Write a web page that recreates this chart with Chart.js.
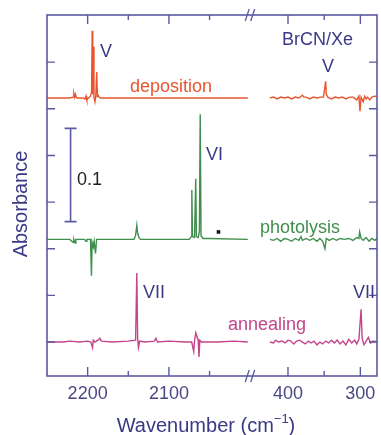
<!DOCTYPE html>
<html>
<head>
<meta charset="utf-8">
<script src="https://cdn.jsdelivr.net/npm/chart.js@4"></script>
<style>
  body { margin: 0; background: #fff; }
  canvas { display: block; }
</style>
</head>
<body>
<canvas id="myChart" width="381" height="435"></canvas>
<script>
// ========== data (wavenumber in cm-1, absorbance relative to each trace baseline)

const depositionLeft = [
	[2250, 0], [2222, 0], [2218, 0.001], [2217, 0.005], [2216, 0.001], [2215, 0.004], [2214, 0.001], [2213, 0],
	[2206, 0], [2203, -0.001], [2202, 0.002], [2201, -0.002], [2199, 0], [2196.5, 0.002], [2195.2, 0.006],
	[2194.4, 0.072], [2193.7, 0.004], [2193, 0.055], [2192.2, 0.001], [2191, -0.004], [2190, 0.002],
	[2188.8, 0.028], [2188, 0.002], [2187, 0.003], [2186, 0.001], [2184, 0], [2150, 0], [2100, 0], [2050, 0], [2003, 0]
]
const depositionRight = [
	[425, 0], [420, 0.001], [415, -0.001], [410, 0.001], [405, 0], [400, 0.001], [395, -0.001], [390, 0.001],
	[385, 0], [380, 0.003], [378, 0.001], [375, 0.001], [370, -0.001], [365, 0.001], [360, 0], [355, 0.001],
	[351, 0.001], [349, 0.012], [348, 0.018], [347, 0.004], [345, 0.001], [340, -0.001], [335, 0.001], [330, 0],
	[325, 0.001], [320, -0.001], [315, 0.001], [310, 0.001], [305, -0.002], [302, 0.002], [300.5, -0.014],
	[299, 0.001], [296, -0.004], [294, 0.002], [292, -0.001], [290, 0.001], [287, -0.002], [284, 0.001], [280, 0.002], [277, 0.002]
]
const photolysisLeft = [
	[2250, 0], [2222, 0], [2218, -0.003], [2217, 0], [2215.5, -0.004], [2214.5, 0], [2204, 0], [2202, -0.002],
	[2201, 0], [2196.5, 0], [2195.3, -0.039], [2194.5, -0.003], [2193, -0.008], [2192, -0.002], [2190.3, -0.015],
	[2189, 0], [2187, 0], [2143, 0], [2141, 0.004], [2139.5, 0.015], [2138.5, 0.007], [2137, 0.002], [2135, 0],
	[2075, 0], [2072.5, 0.003], [2071.8, 0.053], [2071, 0.003], [2068.5, 0.002], [2067, 0.065], [2066.2, 0.003],
	[2064, 0.002], [2062.5, 0.008], [2061.5, 0.134], [2060.5, 0.004], [2058, 0.001], [2050, 0.001], [2003, 0]
]
const photolysisRight = [
	[425, 0], [420, -0.001], [415, 0.001], [410, -0.002], [405, 0.001], [400, 0], [395, -0.002], [390, 0.001],
	[385, -0.001], [382, 0.003], [380, -0.001], [375, 0.001], [370, -0.001], [365, 0.001], [360, -0.002],
	[356, 0.001], [352, -0.002], [349, -0.010], [347, 0.001], [343, -0.001], [338, 0.001], [333, -0.001],
	[328, 0.001], [322, 0], [316, 0.001], [310, -0.001], [305, 0.002], [302, 0.001], [301, 0.008], [299, 0.001],
	[296, -0.001], [292, 0.002], [288, -0.002], [284, 0.001], [280, -0.001], [277, 0.001]
]
const annealingLeft = [
	[2250, 0], [2230, 0], [2222, 0.001], [2210, 0], [2200, 0.001], [2196, 0], [2194, -0.006], [2193, 0.002],
	[2191, 0], [2187, 0.002], [2185, 0.004], [2183, 0.001], [2170, 0], [2150, 0.001], [2141, 0.002],
	[2139.5, 0.074], [2138.5, 0.004], [2137.5, -0.006], [2136, 0.001], [2130, 0], [2118, 0.001], [2116, 0.004],
	[2114, 0], [2100, 0.001], [2080, 0], [2072, 0], [2069.5, -0.010], [2068.5, 0.001], [2067, 0.010],
	[2064, 0.002], [2063, -0.016], [2062, 0.002], [2060, 0], [2040, 0], [2020, 0.001], [2003, 0]
]
const annealingRight = [
	[425, 0], [420, -0.001], [417, 0.002], [413, 0], [408, 0.001], [404, -0.001], [400, 0.002], [396, 0.001],
	[392, -0.002], [388, 0.001], [384, 0.002], [380, 0], [376, -0.002], [372, 0.001], [368, -0.001], [364, 0.001],
	[360, -0.003], [356, 0], [352, -0.002], [348, 0.001], [344, -0.001], [340, 0.002], [336, -0.001], [332, 0.002],
	[328, -0.002], [324, 0.001], [320, -0.003], [316, 0.003], [312, -0.001], [308, 0.002], [305, -0.002],
	[302, 0.003], [299, 0.035], [297.5, 0.004], [295, -0.003], [292, 0.001], [289, 0.005], [286, -0.001],
	[283, 0.001], [280, 0.001], [277, 0]
]

// trace offsets on the absorbance axis
const offsets = { deposition: 0.2615, photolysis: 0.110, annealing: 0 }

// black square marker near the photolysis trace
const markerPoint = [[2039, 0.118]]

// scale bar (0.1 absorbance)
const scaleBarWn = 2221
const scaleBarRange = [0.129, 0.229]

// ticks
const leftMajorTicks = [2200, 2100]
const leftMinorTicks = [2150, 2050]
const rightMajorTicks = [400, 300]
const rightMinorTicks = [350]
const yTicks = [0, 0.05, 0.10, 0.15, 0.20, 0.25, 0.30]
const breakWn = 2000


// ========== colours / fonts
const RED = '#e8552f'
const GREEN = '#3f8e4c'
const MAGENTA = '#c4458b'
const NAVY = '#3b3886'
const AXIS = '#5b59a1'
const FONT = '"Liberation Sans", Arial, sans-serif'


function toPoints(arr, offset){
	return arr.map(p => ({ x: p[0], y: p[1] + offset }))
}

function trace(arr, offset, color, axis){
	return {
		data: toPoints(arr, offset),
		xAxisID: axis,
		borderColor: color,
		borderWidth: 1.4,
		pointRadius: 0,
		tension: 0,
		fill: false
	}
}


// ========== decorations: frame, ticks, break marks, texts
const decor = {
	id: 'decor',
	afterDatasetsDraw(chart){
		const ctx = chart.ctx
		const a = chart.chartArea
		const x1 = chart.scales.x1, x2 = chart.scales.x2, y = chart.scales.y
		ctx.save()

		// frame
		ctx.strokeStyle = AXIS
		ctx.lineWidth = 1.6
		ctx.strokeRect(a.left, a.top, a.right - a.left, a.bottom - a.top)

		// x ticks (bottom and top, inward)
		ctx.lineWidth = 1.4
		function xTick(px, len){
			ctx.beginPath()
			ctx.moveTo(px, a.bottom); ctx.lineTo(px, a.bottom - len)
			ctx.moveTo(px, a.top); ctx.lineTo(px, a.top + len)
			ctx.stroke()
		}
		leftMajorTicks.forEach(v => xTick(x1.getPixelForValue(v), 9))
		leftMinorTicks.forEach(v => xTick(x1.getPixelForValue(v), 5))
		rightMajorTicks.forEach(v => xTick(x2.getPixelForValue(v), 9))
		rightMinorTicks.forEach(v => xTick(x2.getPixelForValue(v), 5))

		// y ticks (both sides, inward)
		yTicks.forEach(v => {
			const py = y.getPixelForValue(v)
			ctx.beginPath()
			ctx.moveTo(a.left, py); ctx.lineTo(a.left + 8, py)
			ctx.moveTo(a.right, py); ctx.lineTo(a.right - 8, py)
			ctx.stroke()
		})

		// break marks
		const bx = x1.getPixelForValue(breakWn)
		ctx.lineWidth = 1.3
		;[a.top, a.bottom].forEach(py => {
			ctx.beginPath()
			ctx.moveTo(bx - 5, py + 6); ctx.lineTo(bx - 1, py - 6)
			ctx.moveTo(bx + 0.5, py + 6); ctx.lineTo(bx + 4.5, py - 6)
			ctx.stroke()
		})

		// scale bar
		const sx = x1.getPixelForValue(scaleBarWn)
		const sy0 = y.getPixelForValue(scaleBarRange[0])
		const sy1 = y.getPixelForValue(scaleBarRange[1])
		ctx.lineWidth = 1.6
		ctx.beginPath()
		ctx.moveTo(sx, sy0); ctx.lineTo(sx, sy1)
		ctx.moveTo(sx - 6, sy0); ctx.lineTo(sx + 6, sy0)
		ctx.moveTo(sx - 6, sy1); ctx.lineTo(sx + 6, sy1)
		ctx.stroke()

		// tick labels
		ctx.fillStyle = '#4a4783'
		ctx.font = '18px ' + FONT
		ctx.textAlign = 'center'
		ctx.textBaseline = 'alphabetic'
		leftMajorTicks.forEach(v => ctx.fillText(String(v), x1.getPixelForValue(v), 399))
		rightMajorTicks.forEach(v => ctx.fillText(String(v), x2.getPixelForValue(v), 399))

		// axis titles
		ctx.fillStyle = NAVY
		ctx.font = '20px ' + FONT
		ctx.textAlign = 'left'
		const t1 = 'Wavenumber (cm'
		const w1 = ctx.measureText(t1).width
		ctx.font = '13px ' + FONT
		const w2 = ctx.measureText('\u22121').width
		ctx.font = '20px ' + FONT
		const w3 = ctx.measureText(')').width
		const tx = 206 - (w1 + w2 + w3) / 2
		ctx.fillText(t1, tx, 432)
		ctx.font = '13px ' + FONT
		ctx.fillText('\u22121', tx + w1, 423)
		ctx.font = '20px ' + FONT
		ctx.fillText(')', tx + w1 + w2, 432)

		ctx.save()
		ctx.translate(27, 204)
		ctx.rotate(-Math.PI / 2)
		ctx.textAlign = 'center'
		ctx.fillText('Absorbance', 0, 0)
		ctx.restore()

		// annotations
		ctx.font = '18px ' + FONT
		ctx.textAlign = 'left'
		ctx.fillStyle = NAVY
		ctx.fillText('V', 100, 57)
		ctx.fillText('BrCN/Xe', 282, 45)
		ctx.textAlign = 'center'
		ctx.fillText('V', 328, 72)
		ctx.textAlign = 'left'
		ctx.fillText('VI', 206, 160)
		ctx.fillText('VII', 143, 298)
		ctx.fillText('VII', 353, 298)
		ctx.fillStyle = '#222'
		ctx.fillText('0.1', 77, 185)

		ctx.fillStyle = RED
		ctx.fillText('deposition', 130, 92)
		ctx.fillStyle = GREEN
		ctx.fillText('photolysis', 260, 233)
		ctx.fillStyle = MAGENTA
		ctx.fillText('annealing', 228, 330)

		ctx.restore()
	}
}


// ========== setup chartjs
const ctx1 = document.getElementById('myChart').getContext('2d')
let myChart = new Chart(ctx1, {
	type: 'line',
	data: {
		datasets: [
			trace(depositionLeft, offsets.deposition, RED, 'x1'),
			trace(depositionRight, offsets.deposition, RED, 'x2'),
			trace(photolysisLeft, offsets.photolysis, GREEN, 'x1'),
			trace(photolysisRight, offsets.photolysis, GREEN, 'x2'),
			trace(annealingLeft, offsets.annealing, MAGENTA, 'x1'),
			trace(annealingRight, offsets.annealing, MAGENTA, 'x2'),
			{
				type: 'scatter',
				data: markerPoint.map(p => ({ x: p[0], y: p[1] })),
				xAxisID: 'x1',
				pointStyle: 'rect',
				pointRadius: 2.5,
				backgroundColor: '#111',
				borderColor: '#111',
				borderWidth: 0
			}
		]
	},
	options: {
		responsive: false,
		animation: false,
		devicePixelRatio: 1,
		layout: { padding: { left: 47, right: 1, top: 15, bottom: 59 } },
		plugins: { legend: { display: false }, tooltip: { enabled: false } },
		scales: {
			x1: { type: 'linear', reverse: true, min: 1844, max: 2250, display: false },
			x2: { type: 'linear', reverse: true, min: 277, max: 733, display: false },
			y: { type: 'linear', min: -0.0364, max: 0.3505, display: false }
		}
	},
	plugins: [decor]
});
</script>
</body>
</html>
